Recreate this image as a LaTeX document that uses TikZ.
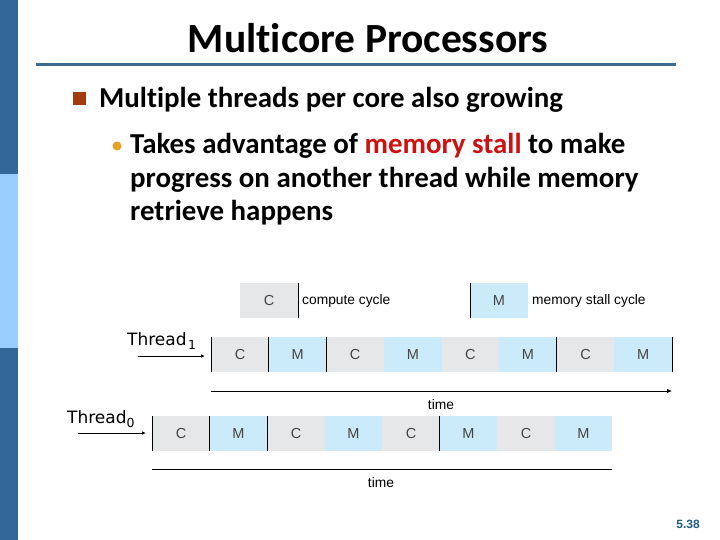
\documentclass[tikz,border=0pt]{standalone}
\usepackage{fontspec}
\setmainfont{Carlito}[Ligatures=NoCommon]
\newfontfamily\diag{Liberation Sans}
\newfontfamily\lbl{DejaVu Sans}
\usetikzlibrary{arrows.meta}
\definecolor{bardark}{HTML}{336699}
\definecolor{barlight}{HTML}{99CCFF}
\definecolor{rulecol}{HTML}{3D6A8F}
\definecolor{bulbrown}{HTML}{A33B0E}
\definecolor{bulorange}{HTML}{E8A020}
\definecolor{stallred}{HTML}{CC1111}
\definecolor{cgrey}{HTML}{E6E7E9}
\definecolor{mblue}{HTML}{CCEBFA}
\definecolor{pagecol}{HTML}{1E5C7C}
\definecolor{txtgrey}{HTML}{444444}
\tikzset{
  cbox/.style={fill=cgrey, minimum width=57.6pt, minimum height=35pt, inner sep=0pt, anchor=north west, text=txtgrey, font=\diag\fontsize{14.5}{16}\selectfont},
  mbox/.style={cbox, fill=mblue},
  sep/.style={draw=black, line width=0.9pt},
  axis/.style={draw=black, line width=0.8pt},
  smalltxt/.style={font=\diag\fontsize{13.8}{15}\selectfont, inner sep=0pt},
  thr/.style={font=\lbl\fontsize{17}{19}\selectfont, inner sep=0pt, anchor=base west},
  thrarrow/.style={draw=black, line width=0.9pt, -{Latex[length=4pt,width=3.5pt]}},
  bodytxt/.style={anchor=base west, inner sep=0pt, font=\bfseries\fontsize{28.9}{33}\selectfont},
}
\begin{document}
\begin{tikzpicture}[x=1pt,y=-1pt]
\useasboundingbox (0,0) rectangle (720,540);
% left bar
\fill[bardark] (0,0) rectangle (18,174);
\fill[barlight] (0,174) rectangle (18,348);
\fill[bardark] (0,348) rectangle (18,540);
% title
\node[anchor=base, inner sep=0pt, font=\bfseries\fontsize{41.5}{44}\selectfont] (title) at (368,53) {Multicore Processors};
\fill[rulecol] (36,63.5) rectangle (676,66.5);
% bullets
\fill[bulbrown] (73,92) rectangle (86,105) node[coordinate] (b1) {};
\node[bodytxt] (l1) at (99,108) {Multiple threads per core also growing};
\fill[bulorange] (117,146) circle (4.5pt) node[coordinate] (b2) {};
\node[bodytxt] (l2) at (130,154) {Takes advantage of \textcolor{stallred}{memory stall} to make};
\node[bodytxt] (l3) at (130,187.5) {progress on another thread while memory};
\node[bodytxt] (l4) at (130,221) {retrieve happens};
% legend
\node[cbox] (legc) at (240,282.5) {C};
\draw[sep] (legc.north east) -- (legc.south east);
\node[smalltxt, anchor=west] (legct) at (302,300.5) {compute cycle};
\node[mbox] (legm) at (470,282.5) {M};
\draw[sep] (legm.north west) -- (legm.south west);
\node[smalltxt, anchor=west] (legmt) at (532,300.5) {memory stall cycle};
% thread 1 row
\foreach \i/\t/\s in {1/C/cbox,2/M/mbox,3/C/cbox,4/M/mbox,5/C/cbox,6/M/mbox,7/C/cbox,8/M/mbox}{
  \node[\s] (ta\i) at ({211+(\i-1)*57.6},337) {\t};
}
\foreach \i in {1,2,3,7}{\draw[sep] (ta\i.north west) -- (ta\i.south west);}
\draw[sep] (ta8.north east) -- (ta8.south east);
\coordinate (ax1s) at (211,391);
\coordinate (ax1e) at (672,391);
\draw[axis, -{Latex[length=5pt,width=4.5pt]}] (ax1s) -- (ax1e);
\node[smalltxt] (time1) at (441,405) {time};
\node[thr] (th1) at (127,345.5) {Thread\hspace{1.5pt}\raisebox{-3.5pt}{\fontsize{12.5}{14}\selectfont 1}};
\coordinate (th1a) at (138,356);
\coordinate (th1b) at (205,356);
\draw[thrarrow] (th1a) -- (th1b);
% thread 0 row
\foreach \i/\t/\s in {1/C/cbox,2/M/mbox,3/C/cbox,4/M/mbox,5/C/cbox,6/M/mbox,7/C/cbox,8/M/mbox}{
  \node[\s] (tb\i) at ({152+(\i-1)*57.5},415.5) {\t};
}
\foreach \i in {1,2,3,6}{\draw[sep] (tb\i.north west) -- (tb\i.south west);}
\coordinate (ax0s) at (152,469);
\coordinate (ax0e) at (612,469);
\draw[axis] (ax0s) -- (ax0e);
\node[smalltxt] (time0) at (381,483) {time};
\node[thr] (th0) at (67,423.5) {Thread\raisebox{-3.5pt}{\fontsize{12.5}{14}\selectfont 0}};
\coordinate (th0a) at (78,433);
\coordinate (th0b) at (146,433);
\draw[thrarrow] (th0a) -- (th0b);
% page number
\node[anchor=base east, inner sep=0pt, text=pagecol, font=\diag\bfseries\fontsize{12}{14}\selectfont] (pg) at (700,528) {5.38};
\end{tikzpicture}
\end{document}
